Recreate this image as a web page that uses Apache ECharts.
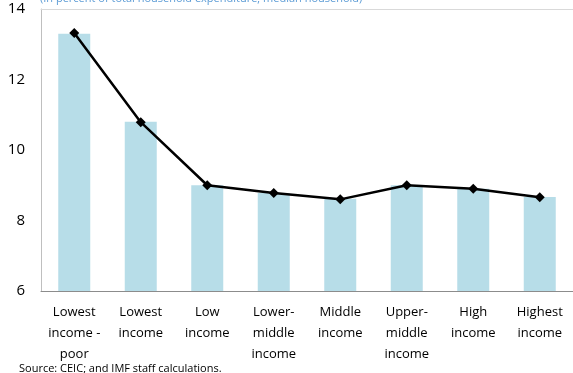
<!DOCTYPE html>
<html>
<head>
<meta charset="utf-8">
<script src="https://cdn.jsdelivr.net/npm/echarts@6/dist/echarts.min.js"></script>
<style>html,body{margin:0;padding:0;background:#fff}#c{width:573px;height:373px}</style>
</head>
<body>
<div id="c"></div>
<script>
var categories = ["Lowest\nincome -\npoor", "Lowest\nincome", "Low\nincome", "Lower-\nmiddle\nincome", "Middle\nincome", "Upper-\nmiddle\nincome", "High\nincome", "Highest\nincome"];
var barValues = [13.3, 10.8, 9.0, 8.78, 8.62, 9.0, 8.9, 8.67];
var lineValues = [13.32, 10.79, 9.0, 8.78, 8.6, 9.0, 8.9, 8.66];
var yTicks = [6, 8, 10, 12, 14];
var subtitle = "(In percent of total household expenditure; median household)";
var source = "Source: CEIC; and IMF staff calculations.";

var chart = echarts.init(document.getElementById('c'));
var font = "'Open Sans', 'Noto Sans', sans-serif";
chart.setOption({
  animation: false,
  textStyle: {fontFamily: font},
  title: [
    {text: subtitle, left: 35, top: -12, textStyle: {fontSize: 11, fontWeight: 'normal', color: '#5b9bd5', fontFamily: font}},
    {text: source, left: 14, top: 358, textStyle: {fontSize: 11, fontWeight: 'normal', color: '#000', fontFamily: font}}
  ],
  grid: {left: 41, right: -6, top: 9, bottom: 82, containLabel: false},
  xAxis: [{
    type: 'category', data: categories,
    axisLine: {lineStyle: {color: '#8c8c8c', width: 1}},
    axisTick: {show: false},
    axisLabel: {color: '#000', fontSize: 13, lineHeight: 21, margin: 11, interval: 0, fontFamily: font}
  }, {
    type: 'category', data: categories, position: 'top',
    axisLine: {show: true, lineStyle: {color: '#d9d9d9', width: 1}},
    axisTick: {show: false}, axisLabel: {show: false}
  }],
  yAxis: {
    type: 'value', min: yTicks[0], max: yTicks[yTicks.length - 1], interval: 2,
    axisLine: {show: true, lineStyle: {color: '#bfbfbf'}},
    axisTick: {show: false},
    splitLine: {show: false},
    axisLabel: {color: '#000', fontSize: 15, margin: 16, fontFamily: font}
  },
  series: [{
    type: 'bar', data: barValues, barWidth: 32,
    itemStyle: {color: '#b7dde8'}
  }, {
    type: 'line', data: lineValues,
    lineStyle: {color: '#000', width: 2.5},
    itemStyle: {color: '#000'},
    symbol: 'diamond', symbolSize: 10, showAllSymbol: true
  }]
});
</script>
</body>
</html>
